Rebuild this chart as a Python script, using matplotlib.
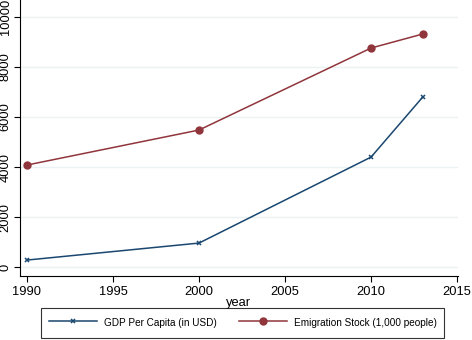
import matplotlib.pyplot as plt

# --- data ---
years = [1990, 2000, 2010, 2013]
gdp_per_capita = [280, 960, 4400, 6800]
emigration_stock = [4080, 5480, 8760, 9320]

x_ticks = [1990, 1995, 2000, 2005, 2010, 2015]
y_ticks = [0, 2000, 4000, 6000, 8000, 10000]

navy = "#1a476f"
maroon = "#90353b"

plt.rcParams["font.family"] = ["Liberation Sans", "DejaVu Sans"]

fig = plt.figure(figsize=(4.72, 3.40), dpi=100)
ax = fig.add_axes([0.0424, 0.188, 0.928, 0.812])

ax.plot(years, gdp_per_capita, color=navy, linewidth=1.1, marker="x",
        markersize=3.5, markeredgewidth=1.1, label="GDP Per Capita (in USD)")
ax.plot(years, emigration_stock, color=maroon, linewidth=1.1, marker="o",
        markersize=5, label="Emigration Stock (1,000 people)")

ax.set_xlim(1989.6, 2015.05)
ax.set_ylim(-360, 10680)
ax.set_xticks(x_ticks)
ax.set_yticks(y_ticks)
ax.set_yticklabels([str(v) for v in y_ticks], rotation=90, va="center")
ax.tick_params(labelsize=9.3, length=4, width=0.8, colors="black")
ax.tick_params(axis="y", pad=2)
ax.set_xlabel("year", fontsize=9.3, labelpad=-1)

ax.grid(axis="y", color="#eaf2f3", linewidth=1)
ax.set_axisbelow(True)
for side in ["top", "right"]:
    ax.spines[side].set_visible(False)
for side in ["left", "bottom"]:
    ax.spines[side].set_linewidth(0.8)

leg = fig.legend(loc="lower center", bbox_to_anchor=(0.514, 0.006), ncol=2,
                 fontsize=7.2, frameon=True, fancybox=False, edgecolor="black",
                 handlelength=4.8, handleheight=1.9, handletextpad=0.7,
                 columnspacing=2.2, borderpad=0.75, borderaxespad=0)
leg.get_frame().set_linewidth(0.8)

fig.savefig("out.png", dpi=100)
